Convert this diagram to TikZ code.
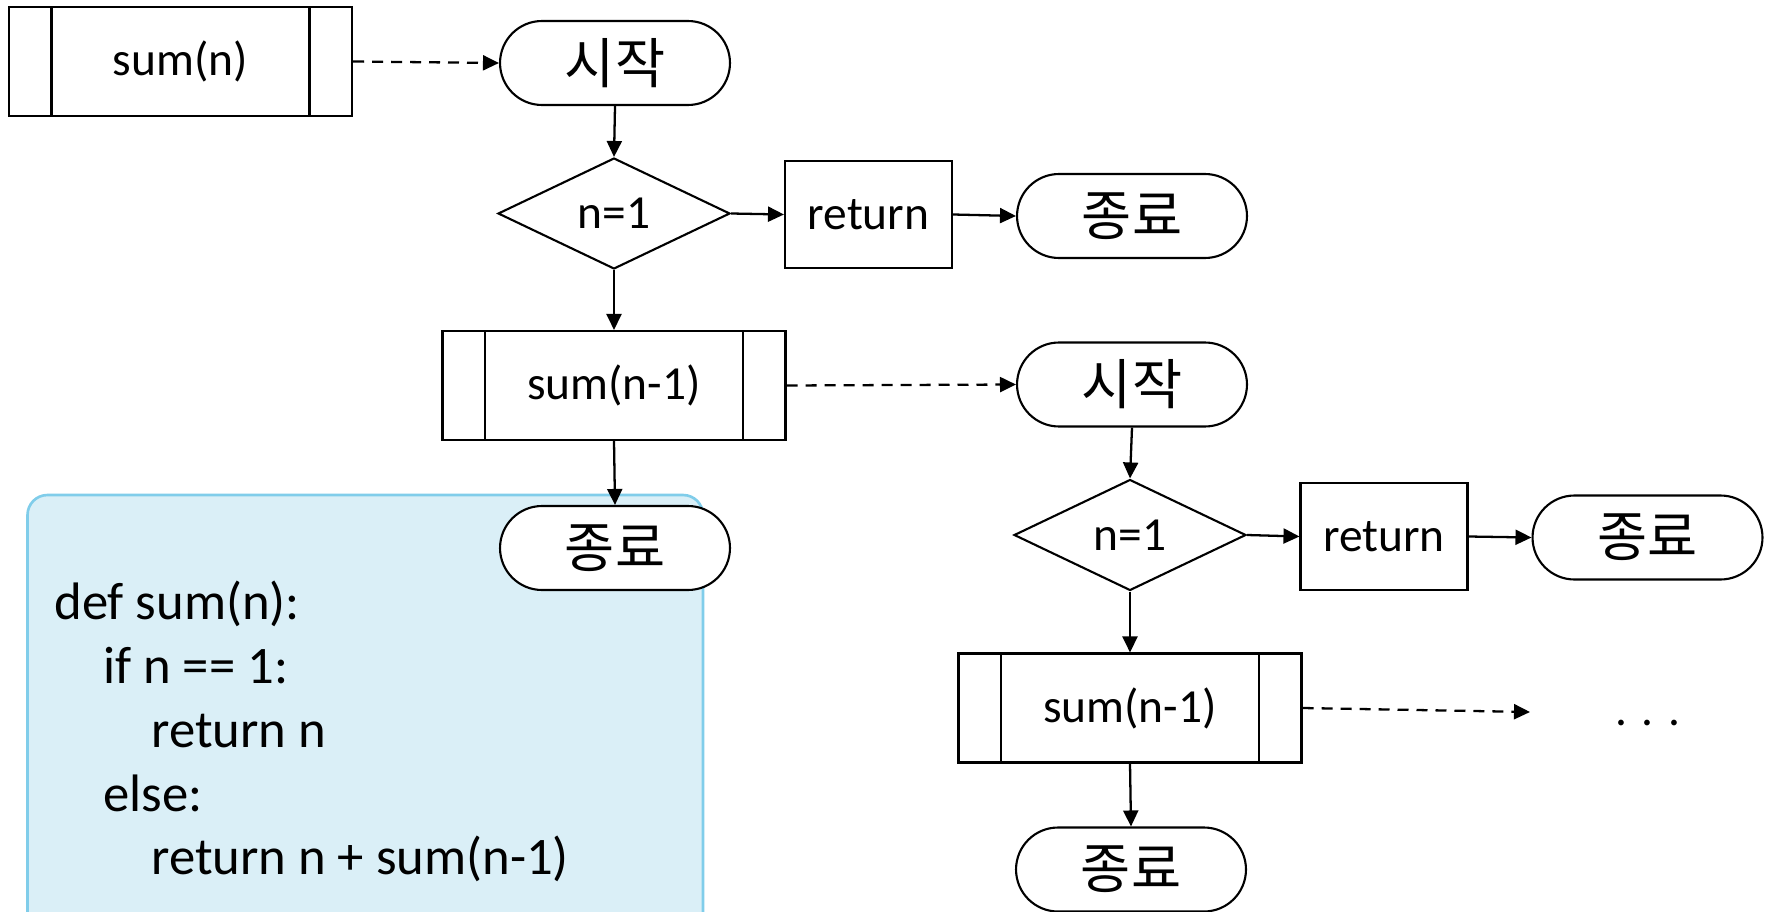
\documentclass[tikz,border=0pt]{standalone}
\usepackage{fontspec}
\setmainfont{Carlito}
\newfontfamily\krfont{Noto Sans CJK KR}
\usetikzlibrary{shapes.geometric,shapes.misc,arrows.meta}
\definecolor{codebg}{HTML}{DAEFF7}
\definecolor{codeborder}{HTML}{80CDEA}
\begin{document}
\begin{tikzpicture}[x=0.02cm,y=-0.02cm,
  nodefont/.style={font=\fontsize{27}{32}\selectfont},
  term/.style={draw, rounded rectangle, minimum width=4.6cm, minimum height=1.68cm,
    inner sep=0pt, fill=white, line width=1.2pt, font=\krfont\fontsize{31}{36}\selectfont},
  decision/.style={draw, diamond, minimum width=4.64cm, minimum height=2.22cm,
    inner sep=0pt, line width=1.2pt, nodefont},
  retbox/.style={draw, rectangle, minimum width=3.34cm, minimum height=2.14cm,
    inner sep=0pt, line width=1.2pt, nodefont},
  procbox/.style={draw, rectangle, minimum width=6.86cm, minimum height=2.18cm,
    inner sep=0pt, line width=1.2pt, nodefont,
    path picture={
      \draw[line width=1.2pt] ([xshift=0.85cm]path picture bounding box.north west)
        -- ([xshift=0.85cm]path picture bounding box.south west);
      \draw[line width=1.2pt] ([xshift=-0.85cm]path picture bounding box.north east)
        -- ([xshift=-0.85cm]path picture bounding box.south east);}},
  codeline/.style={anchor=base west, inner sep=0pt, font=\fontsize{30}{36}\selectfont},
  arr/.style={line width=1.3pt, -{Triangle[length=0.32cm,width=0.3cm]}},
  darr/.style={arr, dash pattern=on 0.22cm off 0.16cm}
]
\useasboundingbox (0,0) rectangle (1767,912);

% code box
\begin{scope}
  \clip (0,0) rectangle (1767,912);
  \path[fill=codebg, draw=codeborder, line width=1.5pt, rounded corners=0.4cm]
    (27.5,495) rectangle (703,980);
\end{scope}
\node[codeline] (l1) at (54,619) {def sum(n):};
\node[codeline] (l2) at (103,683) {if n == 1:};
\node[codeline] (l3) at (151,747) {return n};
\node[codeline] (l4) at (103,811) {else:};
\node[codeline] (l5) at (151,874) {return n + sum(n-1)};

% first level
\node[procbox] (s0) at (180.5,61.5) {sum(n)};
\node[term] (st1) at (615,63) {시작};
\node[decision] (d1) at (614,213.5) {n=1};
\node[retbox] (r1) at (868.5,214.5) {return};
\node[term] (e1) at (1132,216) {종료};
\node[procbox] (s1) at (614,385.5) {sum(n-1)};
\node[term] (e2) at (615,548) {종료};

% second level
\node[term] (st2) at (1132,384.5) {시작};
\node[decision] (d2) at (1130,535) {n=1};
\node[retbox] (r2) at (1384,536.5) {return};
\node[term] (e3) at (1647.5,537.5) {종료};
\node[procbox] (s2) at (1130,708) {sum(n-1)};
\node[term] (e4) at (1131,869.5) {종료};
\coordinate (c) at (1530,712);
\node[anchor=base, inner sep=0pt, nodefont] (dots) at (1648,725) {. . .};

% connectors
\draw[darr] (s0.east) -- (st1.west);
\draw[arr] (st1.south) -- (d1.north);
\draw[arr] (d1.east) -- (r1.west);
\draw[arr] (r1.east) -- (e1.west);
\draw[arr] (d1.south) -- (s1.north);
\draw[arr] (s1.south) -- (e2.north);
\draw[darr] (s1.east) -- (st2.west);
\draw[arr] (st2.south) -- (d2.north);
\draw[arr] (d2.east) -- (r2.west);
\draw[arr] (r2.east) -- (e3.west);
\draw[arr] (d2.south) -- (s2.north);
\draw[arr] (s2.south) -- (e4.north);
\draw[darr] (s2.east) -- (c);
\end{tikzpicture}
\end{document}
